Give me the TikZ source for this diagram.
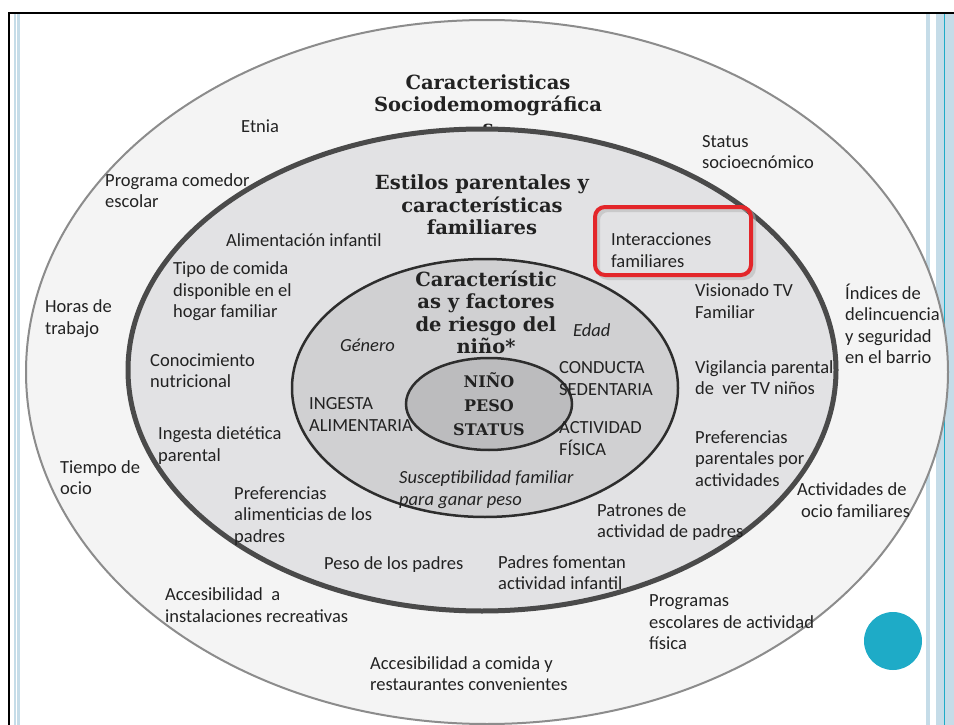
\documentclass[tikz,border=0pt]{standalone}
\usepackage{fontspec}
\setmainfont{Carlito}
\newfontfamily\headfont{DejaVu Serif}
\usetikzlibrary{positioning}

\definecolor{ringA}{HTML}{F4F4F4}
\definecolor{ringB}{HTML}{E2E2E4}
\definecolor{ringC}{HTML}{D0D0D2}
\definecolor{ringD}{HTML}{BCBCBE}
\definecolor{lineA}{HTML}{8C8C8C}
\definecolor{lineB}{HTML}{4A4A4A}
\definecolor{lineC}{HTML}{2D2D2D}
\definecolor{stripe}{HTML}{C5DCE8}
\definecolor{teal}{HTML}{1EABC7}
\definecolor{redbox}{HTML}{E3262A}
\definecolor{ink}{HTML}{222222}

\begin{document}
\begin{tikzpicture}[x=1pt,y=-1pt,
            txt/.style={
              inner sep=0pt,
              anchor=west,
              align=left,
              text=ink,
              font=\fontsize{18.5}{21.5}\selectfont
            },
            itxt/.style={
              txt,
              font=\fontsize{18.5}{21.5}\selectfont\itshape
            },
            head/.style={
              inner sep=0pt,
              align=center,
              text=ink,
              font=\headfont\bfseries\fontsize{19.5}{22.5}\selectfont
            },
            core/.style={
              head,
              font=\headfont\bfseries\fontsize{16}{24}\selectfont
            }
            ]
            \useasboundingbox (0,0) rectangle (954,725);
            \fill[white] (0,0) rectangle (954,725);
            
            % marco
            \fill[stripe] (14,14) rectangle (15.5,725);
            \fill[stripe] (16.5,14) rectangle (20,725);
            \fill[stripe] (926,14) rectangle (930,725);
            \fill[stripe] (936,14) rectangle (954,725);
            \fill[teal] (944,14) rectangle (945.2,725);
            \draw[line width=2.5pt] (9,725) -- (9,13) -- (954,13);
            
            % anillos
            \draw[fill=ringA,draw=lineA,line width=2pt] (487,372) ellipse (461 and 352);
            \node[head] (titSocio) at (488,104.5)
              {Caracteristicas\\Sociodemomográfica\\s};
            \draw[fill=ringB,draw=lineB,line width=5pt] (482,370) ellipse (354 and 241);
            \draw[fill=ringC,draw=lineC,line width=2.5pt] (485,388) ellipse (193 and 129);
            \draw[fill=ringD,draw=lineC,line width=2.5pt] (489,404) ellipse (83 and 46);
            
            \fill[teal] (893,641) circle (29);
            
            % anillo exterior
            \node[txt] (etnia) at (241,126) {Etnia};
            \node[txt] (status) at (702,152) {Status\\socioecnómico};
            \node[txt] (comedor) at (105,190.5) {Programa comedor\\escolar};
            \node[txt] (horas) at (45,318.5) {Horas de\\trabajo};
            \node[txt] (indices) at (845,324)
              {Índices de\\delincuencia\\y seguridad\\en el barrio};
            \node[txt] (ocio) at (60,477.5) {Tiempo de\\ocio};
            \node[txt] (ocioFam) at (797,500)
              {Actividades de\\\hspace*{4pt}ocio familiares};
            \node[txt] (accRecre) at (165,605)
              {Accesibilidad\ \ a\\instalaciones recreativas};
            \node[txt] (progEsc) at (649,622.5)
              {Programas\\escolares de actividad\\física};
            \node[txt] (accComida) at (370,673.5)
              {Accesibilidad a comida y\\restaurantes convenientes};
            
            % anillo medio
            \node[head] (titEstilos) at (482,205)
              {Estilos parentales y\\características\\familiares};
            \node[txt] (alimInf) at (226,240) {Alimentación infantil};
            \node[txt] (tipoComida) at (173,291.5)
              {Tipo de comida\\disponible en el\\hogar familiar};
            \node[txt] (interac) at (611,250) {Interacciones\\familiares};
            \node[txt] (visTV) at (695,301) {Visionado TV\\Familiar};
            \node[txt] (conoc) at (150,370.5) {Conocimiento\\nutricional};
            \node[txt] (vigil) at (695,377.5)
              {Vigilancia parental\\de\ \ ver TV niños};
            \node[txt] (ingDiet) at (158,445.5) {Ingesta dietética\\parental};
            \node[txt] (prefPar) at (695,458.5)
              {Preferencias\\parentales por\\actividades};
            \node[txt] (prefAlim) at (234,516)
              {Preferencias\\alimenticias de los\\padres};
            \node[txt] (patrones) at (597,522) {Patrones de\\actividad de padres};
            \node[txt] (pesoPadres) at (324,565) {Peso de los padres};
            \node[txt] (fomentan) at (498,572.5)
              {Padres fomentan\\actividad infantil};
            
            \draw[black!30,line width=4pt,rounded corners=10pt,opacity=.5]
              (598,210) rectangle (754,278);
            \draw[redbox,line width=4pt,rounded corners=10pt]
              (595,207) rectangle (751,275);
            
            % anillo interior
            \node[head] (titNino) at (486,312.5)
              {Característic\\as y factores\\de riesgo del\\niño*};
            \node[itxt] (genero) at (340,345) {Género};
            \node[itxt] (edad) at (573,330) {Edad};
            \node[txt] (ingesta) at (309,414.5) {INGESTA\\ALIMENTARIA};
            \node[txt] (conducta) at (559,378.5) {CONDUCTA\\SEDENTARIA};
            \node[txt] (actividad) at (559,438.5) {ACTIVIDAD\\FÍSICA};
            \node[itxt] (suscep) at (399,489.5)
              {Susceptibilidad familiar\\para ganar peso};
            
            % centro
            \node[core] (nino) at (489,404) {NIÑO\\PESO\\STATUS};
            \end{tikzpicture}
\end{document}
